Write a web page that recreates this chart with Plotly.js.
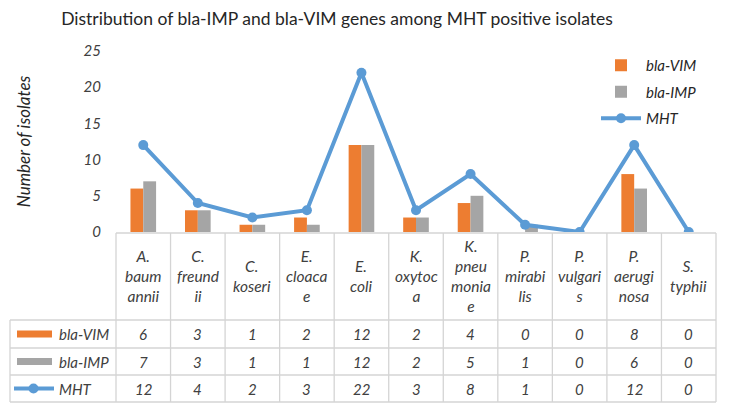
<!DOCTYPE html>
<html>
<head>
<meta charset="utf-8">
<script src="https://cdn.plot.ly/plotly-3.0.1.min.js"></script>
<style>body{margin:0;background:#fff}</style>
</head>
<body>
<div id="chart" style="width:748px;height:407px"></div>
<script>
// organisms, in table order
var categories = ['A. baumannii', 'C. freundii', 'C. koseri', 'E. cloacae', 'E. coli', 'K. oxytoca',
  'K. pneumoniae', 'P. mirabilis', 'P. vulgaris', 'P. aeruginosa', 'S. typhii'];
// header text, wrapped the way the table cells wrap it
var categoryLabels = ['A.<br>baum<br>annii', 'C.<br>freund<br>ii', 'C.<br>koseri', 'E.<br>cloaca<br>e', 'E.<br>coli',
  'K.<br>oxytoc<br>a', 'K.<br>pneu<br>monia<br>e', 'P.<br>mirabi<br>lis', 'P.<br>vulgari<br>s', 'P.<br>aerugi<br>nosa', 'S.<br>typhii'];
var blaVIM = [6, 3, 1, 2, 12, 2, 4, 0, 0, 8, 0];
var blaIMP = [7, 3, 1, 1, 12, 2, 5, 1, 0, 6, 0];
var mht = [12, 4, 2, 3, 22, 3, 8, 1, 0, 12, 0];
var seriesNames = ['bla-VIM', 'bla-IMP', 'MHT'];
var yTicks = [0, 5, 10, 15, 20, 25];

var orange = '#ED7D31', gray = '#A5A5A5', blue = '#5B9BD5', gridCol = '#D4D4D4';
var font = 'Lato, "Open Sans", sans-serif';
var txt = '#404040';

// plot box in pixels, used to place the table below it
var L = 116, R = 716, T = 51, B = 232;
function px(p) { return (p - L) / (R - L); }
function py(p) { return (B - p) / (B - T); }
var colW = (R - L) / categories.length;
var rowLines = [320, 348, 375, 402];
var tableLeft = 10;

var traces = [
  {x: categories, y: blaVIM, name: seriesNames[0], type: 'bar', marker: {color: orange}, legendgroup: 'a'},
  {x: categories, y: blaIMP, name: seriesNames[1], type: 'bar', marker: {color: gray}, legendgroup: 'b'},
  {x: categories, y: mht, name: seriesNames[2], type: 'scatter', mode: 'lines+markers', legendgroup: 'c',
    line: {color: blue, width: 4}, marker: {color: blue, size: 10}}
];

var shapes = [];
var annotations = [];
var lineStyle = {color: gridCol, width: 1.3};

// header row top edge
shapes.push({type: 'line', xref: 'paper', yref: 'paper', x0: 0, x1: 1, y0: py(B + 1), y1: py(B + 1), line: lineStyle});
rowLines.forEach(function (r) {
  shapes.push({type: 'line', xref: 'paper', yref: 'paper', x0: px(tableLeft), x1: 1, y0: py(r), y1: py(r), line: lineStyle});
});
for (var i = 0; i <= categories.length; i++) {
  var xx = px(L + i * colW);
  shapes.push({type: 'line', xref: 'paper', yref: 'paper', x0: xx, x1: xx, y0: py(B + 1), y1: py(402), line: lineStyle});
}
shapes.push({type: 'line', xref: 'paper', yref: 'paper', x0: px(tableLeft), x1: px(tableLeft),
  y0: py(rowLines[0]), y1: py(402), line: lineStyle});

// header cells
categories.forEach(function (c, i) {
  annotations.push({x: c, xref: 'x', xanchor: 'center', y: py((B + rowLines[0]) / 2), yref: 'paper', yanchor: 'middle',
    text: categoryLabels[i], showarrow: false, font: {family: font, size: 15.5, style: 'italic', color: txt}});
});

// value rows
var rows = [blaVIM, blaIMP, mht];
rows.forEach(function (vals, r) {
  var yc = py((rowLines[r] + rowLines[r + 1]) / 2);
  vals.forEach(function (v, i) {
    annotations.push({x: categories[i], xref: 'x', xanchor: 'center', y: yc, yref: 'paper', yanchor: 'middle',
      text: String(v), showarrow: false, font: {family: font, size: 15, style: 'italic', color: txt}});
  });
  annotations.push({x: px(57), xref: 'paper', xanchor: 'left', y: yc, yref: 'paper', yanchor: 'middle',
    text: seriesNames[r], showarrow: false, font: {family: font, size: 15, style: 'italic', color: txt}});
});

// legend keys inside the table
var y1 = (rowLines[0] + rowLines[1]) / 2, y2 = (rowLines[1] + rowLines[2]) / 2, y3 = (rowLines[2] + rowLines[3]) / 2;
shapes.push({type: 'rect', xref: 'paper', yref: 'paper', x0: px(17), x1: px(52), y0: py(y1 - 3.5), y1: py(y1 + 3.5),
  fillcolor: orange, line: {width: 0}});
shapes.push({type: 'rect', xref: 'paper', yref: 'paper', x0: px(17), x1: px(52), y0: py(y2 - 3.5), y1: py(y2 + 3.5),
  fillcolor: gray, line: {width: 0}});
shapes.push({type: 'line', xref: 'paper', yref: 'paper', x0: px(14), x1: px(54), y0: py(y3), y1: py(y3),
  line: {color: blue, width: 4}});
shapes.push({type: 'circle', xref: 'paper', yref: 'paper', x0: px(28.5), x1: px(38.5), y0: py(y3 - 5), y1: py(y3 + 5),
  fillcolor: blue, line: {width: 0}});

var layout = {
  width: 748, height: 407,
  margin: {l: L, r: 748 - R, t: T, b: 407 - B},
  paper_bgcolor: '#fff', plot_bgcolor: '#fff',
  title: {text: 'Distribution of bla-IMP and bla-VIM genes among MHT positive isolates',
    x: 337 / 748, xanchor: 'center', xref: 'container', y: 1 - 19 / 407, yanchor: 'middle', yref: 'container',
    font: {family: font, size: 17.5, color: '#262626'}},
  barmode: 'group', bargap: 0.53, bargroupgap: 0,
  xaxis: {type: 'category', range: [-0.5, categories.length - 0.5], showticklabels: false,
    showline: false, showgrid: false, zeroline: false, ticks: ''},
  yaxis: {range: [0, 25], tickvals: yTicks, showgrid: false, zeroline: false, showline: false, ticks: '',
    ticklabelstandoff: 14,
    tickfont: {family: font, size: 15, style: 'italic', color: txt},
    title: {text: 'Number of isolates', standoff: 48, font: {family: font, size: 17, style: 'italic', color: '#262626'}}},
  showlegend: true,
  legend: {x: px(596), y: py(49), xanchor: 'left', yanchor: 'top', bgcolor: 'rgba(0,0,0,0)',
    font: {family: font, size: 15, style: 'italic', color: '#262626'}, itemwidth: 40, tracegroupgap: 4},
  shapes: shapes,
  annotations: annotations
};

Plotly.newPlot('chart', traces, layout, {displayModeBar: false, staticPlot: true});
</script>
</body>
</html>
